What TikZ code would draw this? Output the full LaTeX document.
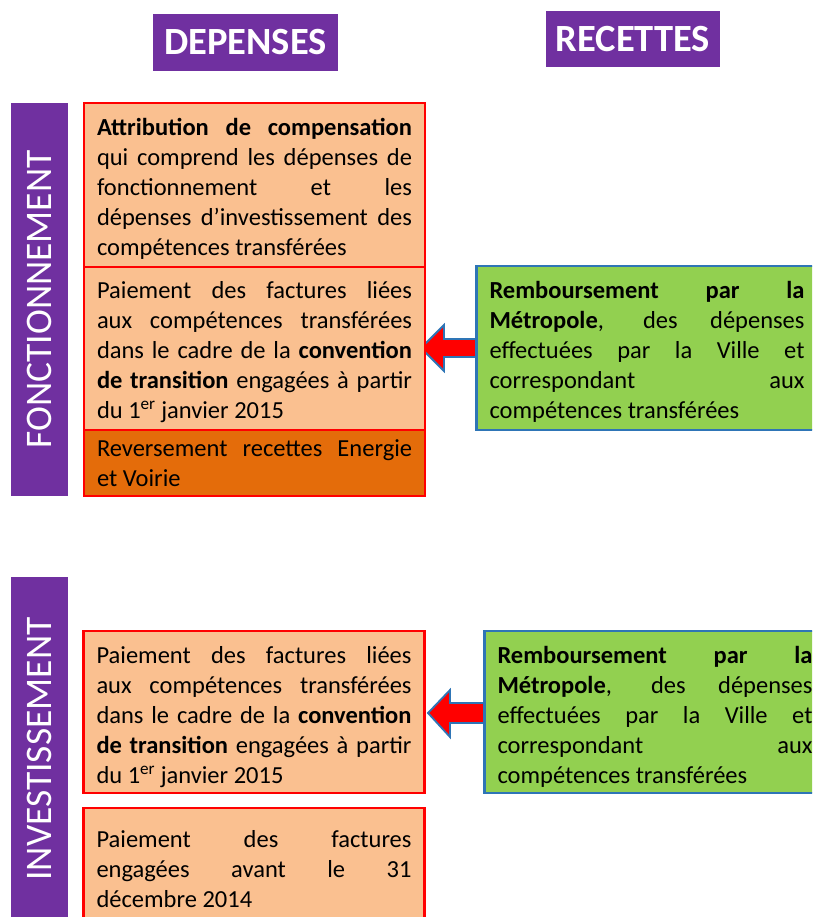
\documentclass[tikz,border=0pt]{standalone}
\usepackage{fontspec}
\setmainfont{Carlito}
\definecolor{purp}{HTML}{7030A0}
\definecolor{lorange}{HTML}{FAC090}
\definecolor{dorange}{HTML}{E46C0A}
\definecolor{lgreen}{HTML}{92D050}
\definecolor{bblue}{HTML}{2E75B6}
\definecolor{bred}{HTML}{FF0000}
\newcommand\myNoHyph{\hyphenpenalty=10000\relax\exhyphenpenalty=10000\relax}
\newcommand\myLift[1]{\myNoHyph\rule{0pt}{#1}}
\tikzset{
  header/.style={fill=purp, text=white, font=\fontsize{38.5}{40}\selectfont\bfseries, inner sep=0pt},
  sidebar/.style={fill=purp, inner sep=0pt},
  sidetext/.style={text=white, rotate=90, font=\fontsize{37.5}{40}\selectfont},
  bodytext/.style={font=\fontsize{24.5}{30}\selectfont, align=justify, text width=315pt, inner xsep=13pt, inner ysep=0pt, anchor=center},
  obox/.style={bodytext, draw=bred, line width=2.6pt, fill=lorange},
  dbox/.style={bodytext, draw=bred, line width=2.6pt, fill=dorange},
  gbox/.style={bodytext, draw=bblue, line width=2.6pt, fill=lgreen},
  blockarrow/.style={draw=bblue, line width=1.8pt, fill=red, line join=miter},
}
\begin{document}
\begin{tikzpicture}[x=1pt, y=-1pt]
\useasboundingbox (0,0) rectangle (812,917);
\clip (0,0) rectangle (812,917);
\fill[white] (0,0) rectangle (812,917);
% headers
\node[header, minimum width=185pt, minimum height=57pt] (dep) at (245.5,42.5) {DEPENSES};
\node[header, minimum width=174pt, minimum height=56pt] (rec) at (633,39) {RECETTES};
% side bars
\node[sidebar, minimum width=57pt, minimum height=393pt] (fbar) at (39.5,299.5) {};
\node[sidetext] (ftext) at (fbar.center) {FONCTIONNEMENT};
\node[sidebar, minimum width=57pt, minimum height=360pt] (ibar) at (39.5,757) {};
\node[sidetext] (itext) at (39.5,749) {INVESTISSEMENT};
% arrows (drawn below boxes)
\coordinate (a1tip) at (421,348);
\coordinate (a2tip) at (428,713);
\draw[blockarrow] (a1tip) -- (444,325) -- (444,339) -- (481,339) -- (481,357) -- (444,357) -- (444,371) -- cycle;
\draw[blockarrow] (a2tip) -- (450,690) -- (450,703) -- (488,703) -- (488,723) -- (450,723) -- (450,737) -- cycle;
% fonctionnement boxes
\node[obox, minimum height=164pt] (b1) at (254.5,185) {\myLift{24pt}\textbf{Attribution de compensation}\linebreak qui comprend les dépenses de\linebreak fonctionnement et les\linebreak dépenses d’investissement des\linebreak compétences transférées};
\node[obox, minimum height=163pt] (b2) at (254.5,348.5) {\myLift{24pt}Paiement des factures liées\linebreak aux compétences transférées\linebreak dans le cadre de la \textbf{convention}\linebreak \textbf{de transition} engagées à partir\linebreak du 1\textsuperscript{er} janvier 2015};
\node[dbox, minimum height=66pt] (b3) at (254.5,463) {\myNoHyph Reversement recettes Energie\linebreak et Voirie};
\node[gbox, minimum height=164pt] (g1) at (647,348) {\myLift{24pt}\textbf{Remboursement par la}\linebreak \textbf{Métropole}, des dépenses\linebreak effectuées par la Ville et\linebreak correspondant aux\linebreak compétences transférées};
% investissement boxes
\node[obox, minimum height=162pt] (b4) at (254,712) {\myLift{27pt}Paiement des factures liées\linebreak aux compétences transférées\linebreak dans le cadre de la \textbf{convention}\linebreak \textbf{de transition} engagées à partir\linebreak du 1\textsuperscript{er} janvier 2015};
\node[obox, minimum height=122pt] (b5) at (254,869) {\myNoHyph Paiement des factures\linebreak engagées avant le 31\linebreak décembre 2014};
\node[gbox, minimum height=162pt] (g2) at (655,712) {\myLift{27pt}\textbf{Remboursement par la}\linebreak \textbf{Métropole}, des dépenses\linebreak effectuées par la Ville et\linebreak correspondant aux\linebreak compétences transférées};
\end{tikzpicture}
\end{document}
